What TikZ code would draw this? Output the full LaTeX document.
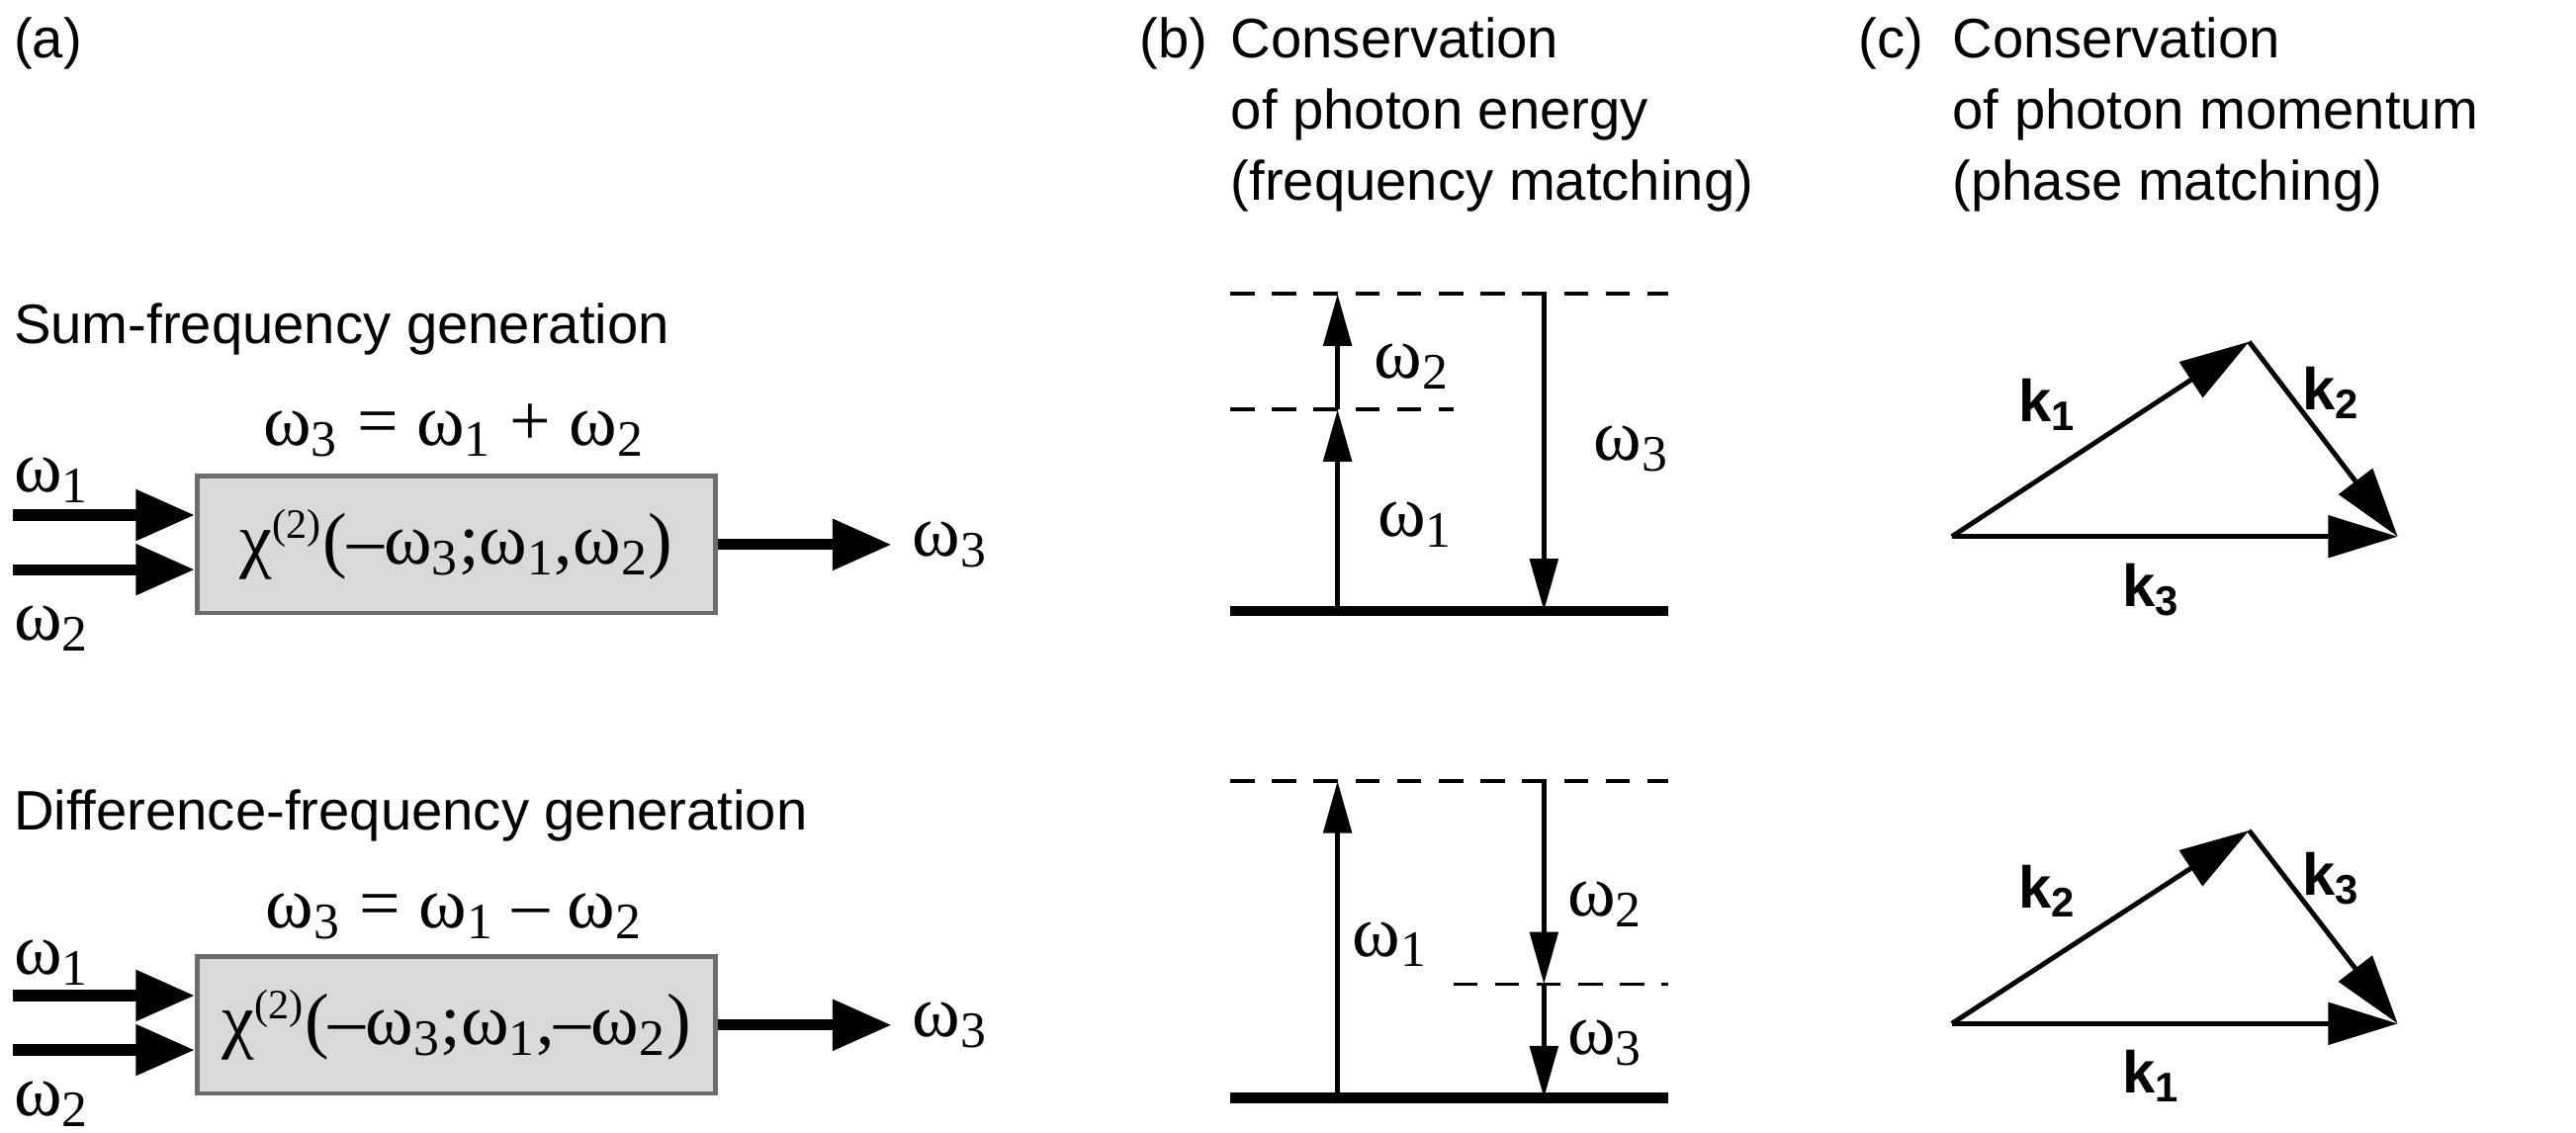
\documentclass[tikz,border=0pt]{standalone}
\usepackage{fontspec}
\setmainfont{Liberation Sans}
\newfontfamily\serf{Liberation Serif}
\usetikzlibrary{arrows.meta}
\begin{document}
\begin{tikzpicture}[x=0.0167cm,y=-0.0167cm,
  txt/.style={font=\fontsize{16}{20.5}\selectfont,inner sep=0pt},
  ot/.style={font=\serf\fontsize{21}{22}\selectfont,inner sep=0pt},
  kt/.style={font=\bfseries\fontsize{17}{18}\selectfont,inner sep=0pt},
  box/.style={draw=gray!85!black,line width=1.3pt,fill=gray!30,minimum width=314*0.0167cm,minimum height=83*0.0167cm,inner sep=0pt},
  fat/.style={line width=3.2pt,-{Triangle[length=17pt,width=14pt]}},
  lvl/.style={line width=1.5pt,-{Triangle[length=15pt,width=8pt]}},
  gnd/.style={line width=3pt},
  dsh/.style={line width=1pt,dash pattern=on 7pt off 5pt},
  vec/.style={line width=1.4pt,-{Triangle[length=20pt,width=12pt]}}]
\useasboundingbox (0,0) rectangle (1560,686);
% headers
\node[txt,anchor=north west] (ha) at (8,10) {(a)};
\node[txt,anchor=north west] (hb) at (690,10) {(b)};
\node[txt,anchor=north west,align=left] (hbt) at (745,10) {Conservation\\of photon energy\\(frequency matching)};
\node[txt,anchor=north west] (hc) at (1125,10) {(c)};
\node[txt,anchor=north west,align=left] (hct) at (1182,10) {Conservation\\of photon momentum\\(phase matching)};
\coordinate (o1e) at (540,0);
\coordinate (o1l) at (552,0);
% (a) SFG
\node[txt,anchor=base west] (sfg) at (8,208) {Sum-frequency generation};
\node[ot,anchor=base] (eq1) at (275,270) {ω\textsubscript{3} = ω\textsubscript{1} + ω\textsubscript{2}};
\node[box,anchor=north west] (b1) at (118,287) {};
\node[ot] (b1t) at (b1.center) {χ\textsuperscript{\fontsize{12}{12}\selectfont(2)}(–ω\textsubscript{3};ω\textsubscript{1},ω\textsubscript{2})};
\coordinate (i1) at (8,312); \coordinate (i2) at (8,345);
\draw[fat] (i1) -- (i1 -| b1.west);
\draw[fat] (i2) -- (i2 -| b1.west);
\node[ot,anchor=base west] (l1) at (8,298) {ω\textsubscript{1}};
\node[ot,anchor=base west] (l2) at (8,388) {ω\textsubscript{2}};
\node[ot,anchor=west] (o1) at (b1.center -| o1l) {ω\textsubscript{3}};
\draw[fat] (b1.east) -- (b1.east -| o1e);
% (a) DFG
\node[txt,anchor=base west] (dfg) at (8,503) {Difference-frequency generation};
\node[ot,anchor=base] (eq2) at (275,562) {ω\textsubscript{3} = ω\textsubscript{1} – ω\textsubscript{2}};
\node[box,anchor=north west] (b2) at (118,578) {};
\node[ot] (b2t) at (b2.center) {χ\textsuperscript{\fontsize{12}{12}\selectfont(2)}(–ω\textsubscript{3};ω\textsubscript{1},–ω\textsubscript{2})};
\coordinate (j1) at (8,603); \coordinate (j2) at (8,636);
\draw[fat] (j1) -- (j1 -| b2.west);
\draw[fat] (j2) -- (j2 -| b2.west);
\node[ot,anchor=base west] (m1) at (8,590) {ω\textsubscript{1}};
\node[ot,anchor=base west] (m2) at (8,676) {ω\textsubscript{2}};
\node[ot,anchor=west] (o2) at (b2.center -| o1l) {ω\textsubscript{3}};
\draw[fat] (b2.east) -- (b2.east -| o1e);
% (b) top
\coordinate (t1) at (810,370); \coordinate (t2) at (810,248); \coordinate (t3) at (810,178);
\coordinate (d1) at (935,178); \coordinate (d2) at (935,370);
\draw[dsh] (745,178) -- (1010,178);
\draw[dsh] (745,248) -- (880,248);
\draw[gnd] (745,370) -- (1010,370);
\draw[lvl] (t1) -- (t2);
\draw[lvl] (t2) -- (t3);
\draw[lvl] (d1) -- (d2);
\node[ot] (bw2) at (855,222) {ω\textsubscript{2}};
\node[ot] (bw1) at (857,318) {ω\textsubscript{1}};
\node[ot] (bw3) at (988,272) {ω\textsubscript{3}};
% (b) bottom
\coordinate (u1) at (810,665); \coordinate (u2) at (810,473);
\coordinate (e1) at (935,473); \coordinate (e2) at (935,596); \coordinate (e3) at (935,665);
\draw[dsh] (745,473) -- (1010,473);
\draw[dsh] (880,596) -- (1010,596);
\draw[gnd] (745,665) -- (1010,665);
\draw[lvl] (u1) -- (u2);
\draw[lvl] (e1) -- (e2);
\draw[lvl] (e2) -- (e3);
\node[ot] (cw1) at (842,572) {ω\textsubscript{1}};
\node[ot] (cw2) at (972,548) {ω\textsubscript{2}};
\node[ot] (cw3) at (972,632) {ω\textsubscript{3}};
% (c) top
\coordinate (p1) at (1182,325); \coordinate (p2) at (1362,207); \coordinate (p3) at (1452,325);
\draw[vec] (p1) -- (p2);
\draw[vec] (p2) -- (p3);
\draw[vec] (p1) -- (p3);
\node[kt] (k1) at (1240,245) {k\textsubscript{1}};
\node[kt] (k2) at (1412,238) {k\textsubscript{2}};
\node[kt] (k3) at (1303,357) {k\textsubscript{3}};
% (c) bottom
\coordinate (q1) at (1182,620); \coordinate (q2) at (1362,503); \coordinate (q3) at (1452,620);
\draw[vec] (q1) -- (q2);
\draw[vec] (q2) -- (q3);
\draw[vec] (q1) -- (q3);
\node[kt] (kk2) at (1240,540) {k\textsubscript{2}};
\node[kt] (kk3) at (1412,532) {k\textsubscript{3}};
\node[kt] (kk1) at (1303,652) {k\textsubscript{1}};
\end{tikzpicture}
\end{document}
